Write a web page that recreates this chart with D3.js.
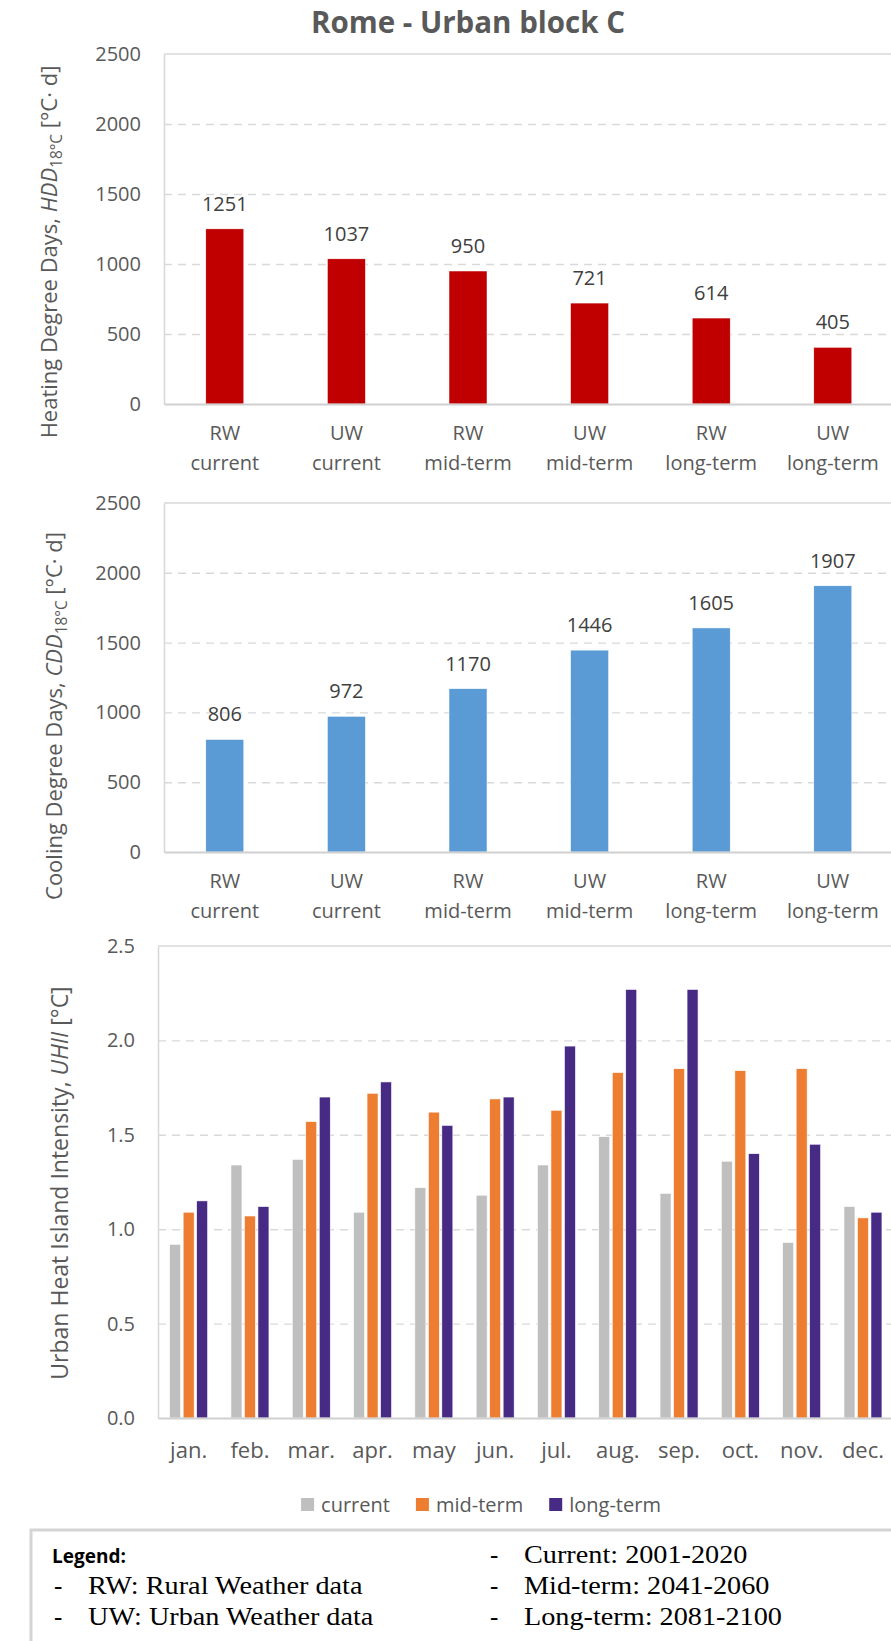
<!DOCTYPE html>
<html><head><meta charset="utf-8">
<script src="https://cdn.jsdelivr.net/npm/d3@7"></script>
<style>
body{margin:0;background:#fff}
svg{display:block}
</style>
</head><body>
<svg id="c" width="891" height="1641" font-family="Open Sans, sans-serif"></svg>
<script>
// ---------------- data ----------------
const ddWeather = ["RW","UW","RW","UW","RW","UW"];
const ddPeriod = ["current","current","mid-term","mid-term","long-term","long-term"];
const hddValues = [1251,1037,950,721,614,405];
const cddValues = [806,972,1170,1446,1605,1907];
const ddTicks = [0,500,1000,1500,2000,2500];

const months = ["jan.","feb.","mar.","apr.","may","jun.","jul.","aug.","sep.","oct.","nov.","dec."];
const seriesNames = ["current","mid-term","long-term"];
const uhiiCurrent  = [0.92,1.34,1.37,1.09,1.22,1.18,1.34,1.49,1.19,1.36,0.93,1.12];
const uhiiMidTerm  = [1.09,1.07,1.57,1.72,1.62,1.69,1.63,1.83,1.85,1.84,1.85,1.06];
const uhiiLongTerm = [1.15,1.12,1.70,1.78,1.55,1.70,1.97,2.27,2.27,1.40,1.45,1.09];
const uhiiTicks = [0,0.5,1,1.5,2,2.5];

const legendLeft = ["RW: Rural Weather data","UW: Urban Weather data"];
const legendRight = ["Current: 2001-2020","Mid-term: 2041-2060","Long-term: 2081-2100"];

// ---------------- style ----------------
const TXT = "#595959", GRID = "#d9d9d9", AXIS = "#d9d9d9";
const seriesColors = ["#bfbfbf","#ed7d31","#462a84"];
const svg = d3.select("#c");

svg.append("text").attr("x",468).attr("y",33).attr("text-anchor","middle")
  .attr("font-size",29.5).attr("font-weight","bold").attr("fill",TXT)
  .text("Rome - Urban block C");

function yTitle(cx, cy, parts, fs){
  const t = svg.append("text").attr("transform",`translate(${cx},${cy}) rotate(-90)`)
    .attr("text-anchor","middle").attr("font-size",fs).attr("fill",TXT);
  parts.forEach(p=>{
    const s = t.append("tspan").text(p.t);
    if(p.i) s.attr("font-style","italic");
    if(p.sub){ s.attr("font-size",fs*0.7).attr("dy",5); }
    if(p.back){ s.attr("dy",-5); }
  });
}

function grid(g, y, ticks, x0, x1, topVal){
  g.append("g").attr("transform",`translate(${x0},0)`)
    .call(d3.axisLeft(y).tickValues(ticks.filter(t=>t>0 && t<topVal)).tickSize(-(x1-x0)).tickFormat(""))
    .call(s=>{ s.select(".domain").remove();
      s.selectAll("line").attr("stroke",GRID).attr("stroke-width",1.4).attr("stroke-dasharray","8,6"); });
  g.append("line").attr("x1",x0).attr("x2",x1).attr("y1",y(topVal)).attr("y2",y(topVal))
    .attr("stroke",GRID).attr("stroke-width",1.4);
}

function styleTicks(s){
  s.attr("font-family",null).attr("font-size",null);
  s.select(".domain").attr("stroke",AXIS).attr("stroke-width",1.6);
  s.selectAll("text").attr("font-size",20).attr("fill",TXT);
}

function ddChart(values, top, bottom, color, title, titleX, titleY){
  const x0 = 164, x1 = 893.6;
  const idx = values.map((d,i)=>i);
  const x = d3.scaleBand().domain(idx).range([x0,x1]).paddingInner(0.6875).paddingOuter(0.34375);
  const y = d3.scaleLinear().domain([0,2500]).range([bottom, top]);
  const g = svg.append("g");
  grid(g, y, ddTicks, x0, x1, 2500);
  g.selectAll("rect.bar").data(values).join("rect").attr("class","bar")
    .attr("x",(d,i)=>x(i)).attr("width",x.bandwidth())
    .attr("y",d=>y(d)).attr("height",d=>y(0)-y(d))
    .attr("fill",color).attr("stroke","#fff").attr("stroke-width",0.5);
  g.selectAll("text.val").data(values).join("text").attr("class","val")
    .attr("x",(d,i)=>x(i)+x.bandwidth()/2).attr("y",d=>y(d)-18)
    .attr("text-anchor","middle").attr("font-size",20).attr("fill","#404040").text(d=>d);
  g.append("g").attr("transform",`translate(${x0},0)`)
    .call(d3.axisLeft(y).tickValues(ddTicks).tickFormat(d3.format("d")).tickSize(0).tickSizeOuter(0).tickPadding(23))
    .call(styleTicks);
  g.append("g").attr("transform",`translate(0,${bottom})`)
    .call(d3.axisBottom(x).tickSize(0).tickSizeOuter(0).tickFormat(""))
    .call(s=>{ s.attr("font-family",null).attr("font-size",null);
      s.select(".domain").attr("stroke","#d0d0d0").attr("stroke-width",2);
      s.selectAll(".tick text").remove();
      s.selectAll(".tick").each(function(i){
        const t = d3.select(this).append("text").attr("text-anchor","middle").attr("font-size",20).attr("fill",TXT);
        t.append("tspan").attr("x",0).attr("y",36).text(ddWeather[i]);
        t.append("tspan").attr("x",0).attr("y",66).text(ddPeriod[i]);
      }); });
  yTitle(titleX, titleY, title, 22);
}

ddChart(hddValues, 54, 404, "#c00000",
  [{t:"Heating Degree Days, "},{t:"HDD",i:true},{t:"18°C",sub:true},{t:" [°C· d]",back:true}], 57, 252);
ddChart(cddValues, 503, 852, "#5b9bd5",
  [{t:"Cooling Degree Days, "},{t:"CDD",i:true},{t:"18°C",sub:true},{t:" [°C· d]",back:true}], 62, 716);

// ---------------- UHII chart ----------------
(function(){
  const x0 = 158, x1 = 893.6, top = 946, bottom = 1418;
  const x = d3.scaleBand().domain(months).range([x0,x1]).padding(0);
  const step = x.bandwidth();
  const xs = d3.scaleBand().domain(seriesNames).range([(step-38)/2,(step+38)/2]).paddingInner(0.185).paddingOuter(0);
  const y = d3.scaleLinear().domain([0,2.5]).range([bottom, top]);
  const g = svg.append("g");
  grid(g, y, uhiiTicks, x0, x1, 2.5);
  const seriesVals = [uhiiCurrent, uhiiMidTerm, uhiiLongTerm];
  seriesNames.forEach((name,si)=>{
    g.append("g").selectAll("rect").data(seriesVals[si]).join("rect")
      .attr("x",(d,i)=>x(months[i])+xs(name)).attr("width",xs.bandwidth())
      .attr("y",d=>y(d)).attr("height",d=>y(0)-y(d))
      .attr("fill",seriesColors[si]).attr("stroke","#fff").attr("stroke-width",0.6);
  });
  g.append("g").attr("transform",`translate(${x0},0)`)
    .call(d3.axisLeft(y).tickValues(uhiiTicks).tickFormat(d3.format(".1f")).tickSize(0).tickSizeOuter(0).tickPadding(23))
    .call(styleTicks);
  g.append("g").attr("transform",`translate(0,${bottom})`)
    .call(d3.axisBottom(x).tickSize(0).tickSizeOuter(0).tickPadding(0))
    .call(s=>{ s.attr("font-family",null).attr("font-size",null);
      s.select(".domain").attr("stroke","#d0d0d0").attr("stroke-width",2);
      s.selectAll(".tick text").attr("dy",null).attr("y",40).attr("font-size",22).attr("fill",TXT); });
  yTitle(68, 1183, [{t:"Urban Heat Island Intensity, "},{t:"UHII",i:true},{t:" [°C]"}], 23);

  const lg = svg.append("g");
  let cx = 0;
  seriesNames.forEach((n,i)=>{
    const it = lg.append("g");
    it.append("rect").attr("x",0).attr("y",-14).attr("width",13).attr("height",13).attr("fill",seriesColors[i]);
    const t = it.append("text").attr("x",20).attr("y",0).attr("font-size",20).attr("fill",TXT).text(n);
    const w = 20 + t.node().getComputedTextLength();
    it.attr("transform",`translate(${cx},0)`);
    cx += w + 26;
  });
  const total = cx - 26;
  lg.attr("transform",`translate(${481 - total/2},1512)`);
})();

// ---------------- text legend box ----------------
svg.append("rect").attr("x",31).attr("y",1530).attr("width",900).attr("height",200)
  .attr("fill","#fff").attr("stroke","#d4d4d4").attr("stroke-width",3);
svg.append("text").attr("x",52).attr("y",1563).attr("font-size",19).attr("font-weight","bold")
  .attr("fill","#000").text("Legend:");
function serifLines(lines, dashX, textX, y0){
  lines.forEach((l,i)=>{
    const y = y0 + i*31;
    svg.append("text").attr("x",dashX).attr("y",y).attr("font-family","Liberation Serif, Times New Roman, serif")
      .attr("font-size",25).attr("fill","#000").text("-");
    svg.append("text").attr("x",textX).attr("y",y).attr("font-family","Liberation Serif, Times New Roman, serif")
      .attr("font-size",25).attr("fill","#000")
      .attr("transform",`translate(${textX},0) scale(1.13,1) translate(${-textX},0)`).text(l);
  });
}
serifLines(legendLeft, 54, 88, 1594);
serifLines(legendRight, 490, 524, 1563);
</script>
</body></html>
